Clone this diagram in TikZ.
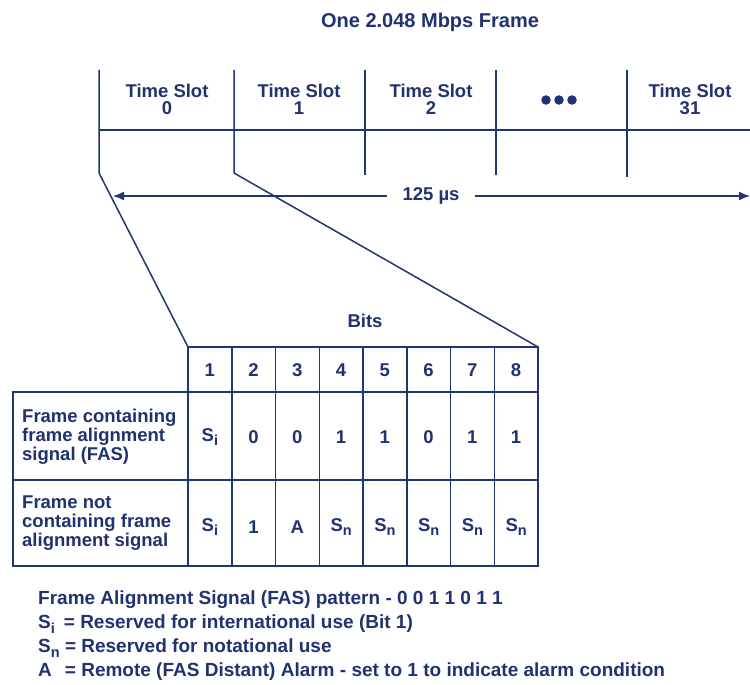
\documentclass[tikz,border=0pt]{standalone}
\usepackage{fontspec}
\setmainfont{Liberation Sans}
\usetikzlibrary{arrows.meta}
\definecolor{navy}{RGB}{30,55,115}
\definecolor{navytext}{RGB}{33,50,112}
\newcommand{\mysub}[1]{\raisebox{-0.5ex}{\fontsize{14.5pt}{14.5pt}\selectfont #1}}
\begin{document}
\begin{tikzpicture}[x=1pt,y=-1pt,
  line/.style={draw=navy,line width=1.5pt},
  txt/.style={text=navytext,inner sep=0pt,font=\bfseries\fontsize{18.5pt}{17pt}\selectfont},
  slot/.style={txt,align=center},
  rowlab/.style={txt,align=left,anchor=west,font=\bfseries\fontsize{18.5pt}{19pt}\selectfont},
  cell/.style={txt},
  legend/.style={txt,anchor=west,font=\bfseries\fontsize{19pt}{19pt}\selectfont},
  dot/.style={fill=navytext,draw=none,circle,minimum size=9.5pt,inner sep=0pt}]
\useasboundingbox (0,0) rectangle (750,685);
\fill[white] (0,0) rectangle (750,685);

% title
\node[txt,font=\bfseries\fontsize{20pt}{20pt}\selectfont] (title) at (430,22) {One 2.048 Mbps Frame};

% frame structure
\coordinate (v0t) at (99,70);  \coordinate (v0b) at (99,173);
\coordinate (v1t) at (234,70); \coordinate (v1b) at (234,173);
\coordinate (v2t) at (365,70); \coordinate (v2b) at (365,175);
\coordinate (v3t) at (496,70); \coordinate (v3b) at (496,175);
\coordinate (v4t) at (627,70); \coordinate (v4b) at (627,177);
\coordinate (hL) at (99,130);  \coordinate (hR) at (750,130);
\draw[line] (hL) -- (hR);
\draw[line] (v2t) -- (v2b);
\draw[line] (v3t) -- (v3b);
\draw[line] (v4t) -- (v4b);

\node[slot] (ts0) at (167,99) {Time Slot\\0};
\node[slot] (ts1) at (299,99) {Time Slot\\1};
\node[slot] (ts2) at (431,99) {Time Slot\\2};
\node[slot] (ts31) at (690,99) {Time Slot\\31};
\node[dot] (d1) at (546,100) {};
\node[dot] (d2) at (559,100) {};
\node[dot] (d3) at (572,100) {};

% duration arrow
\coordinate (aL) at (113,196);
\coordinate (aR) at (750,196);
\draw[line,{Latex[length=11pt,width=9pt]}-{Latex[length=11pt,width=9pt]}] (aL) -- (aR);
\node[txt,fill=white,inner xsep=16pt,inner ysep=3pt] (dur) at (431,196) {125 µs};

% table
\coordinate (tTL) at (188,347);
\coordinate (tTR) at (538,347);
\coordinate (tBR) at (538,566);
\coordinate (lTL) at (13,392);
\coordinate (lMid) at (13,480);
\coordinate (rMid) at (538,480);
\draw[line] (v0t) -- (v0b) -- (tTL);
\draw[line] (v1t) -- (v1b) -- (tTR);
\draw[line] (tTL) rectangle (tBR);
\draw[line] (lTL) rectangle (tBR);
\draw[line] (lMid) -- (rMid);
\foreach \k in {1,...,7} {
  \draw[line] ({188+43.75*\k},347) -- ({188+43.75*\k},566);
}

\node[txt] (bits) at (365,321) {Bits};

\foreach \k/\t in {1/1,2/2,3/3,4/4,5/5,6/6,7/7,8/8} {
  \node[cell] (h\k) at ({188+43.75*(\k-0.5)},370) {\t};
}
\foreach \k/\t in {1/S\mysub{i},2/0,3/0,4/1,5/1,6/0,7/1,8/1} {
  \node[cell] (a\k) at ({188+43.75*(\k-0.5)},437) {\t};
}
\foreach \k/\t in {1/S\mysub{i},2/1,3/A,4/S\mysub{n},5/S\mysub{n},6/S\mysub{n},7/S\mysub{n},8/S\mysub{n}} {
  \node[cell] (b\k) at ({188+43.75*(\k-0.5)},527) {\t};
}

\node[rowlab] (r1) at (22,437) {Frame containing\\frame alignment\\signal (FAS)};
\node[rowlab] (r2) at (22,523) {Frame not\\containing frame\\alignment signal};

% legend
\node[legend] (l1) at (38,600) {Frame Alignment Signal (FAS) pattern - 0 0 1 1 0 1 1};
\node[legend] (l2) at (38,624) {S\mysub{i}\hspace{9pt}= Reserved for international use (Bit 1)};
\node[legend] (l3) at (38,648) {S\mysub{n} = Reserved for notational use};
\node[legend] (l4) at (38,672) {A\hspace{13pt}= Remote (FAS Distant) Alarm - set to 1 to indicate alarm condition};
\end{tikzpicture}
\end{document}
